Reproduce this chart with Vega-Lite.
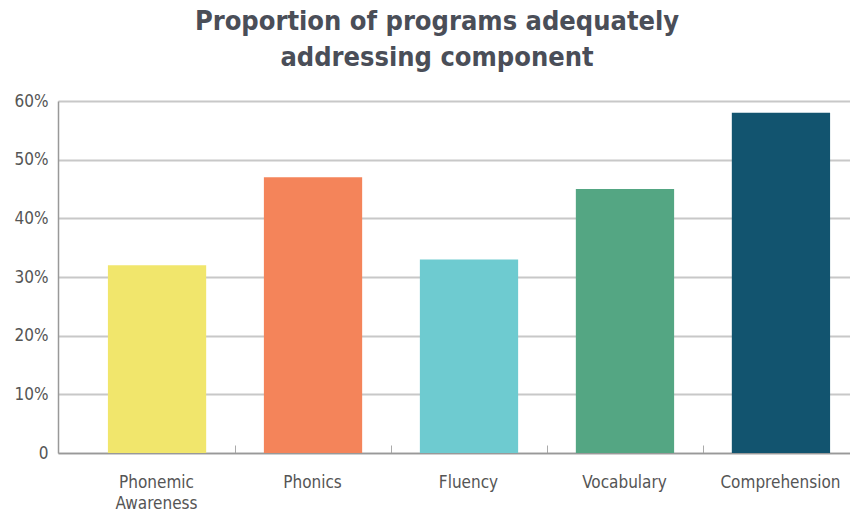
{
  "$schema": "https://vega.github.io/schema/vega-lite/v6.json",
  "autosize": {"type": "none"},
  "padding": {"left": 58, "top": 101, "right": 0, "bottom": 61},
  "width": 822,
  "height": 352,
  "background": "white",
  "title": {
    "text": ["Proportion of programs adequately", "addressing component"],
    "anchor": "middle",
    "frame": "group",
    "dx": -32,
    "offset": 20,
    "font": "DejaVu Sans Condensed, sans-serif",
    "fontSize": 27,
    "fontWeight": "bold",
    "color": "#4a4e58",
    "lineHeight": 36
  },
  "data": {
    "values": [
      {"component": "Phonemic Awareness", "pct": 32},
      {"component": "Phonics", "pct": 47},
      {"component": "Fluency", "pct": 33},
      {"component": "Vocabulary", "pct": 45},
      {"component": "Comprehension", "pct": 58}
    ]
  },
  "mark": {"type": "bar"},
  "encoding": {
    "x": {
      "field": "component",
      "type": "nominal",
      "sort": null,
      "scale": {"paddingInner": 0.37, "paddingOuter": 0.32},
      "axis": {
        "title": null,
        "labelAngle": 0,
        "labelExpr": "datum.label == 'Phonemic Awareness' ? ['Phonemic', 'Awareness'] : datum.label",
        "labelFont": "DejaVu Sans Condensed, sans-serif",
        "labelFontSize": 17,
        "labelColor": "#555555",
        "labelLineHeight": 21,
        "labelPadding": 29,
        "bandPosition": 1,
        "tickOffset": 29,
        "labelOffset": -30,
        "tickSize": -8,
        "tickColor": "#aaaaaa",
        "tickWidth": 1,
        "domainColor": "#999999",
        "domainWidth": 1.5,
        "grid": false
      }
    },
    "y": {
      "field": "pct",
      "type": "quantitative",
      "scale": {"domain": [0, 60]},
      "axis": {
        "title": null,
        "values": [0, 10, 20, 30, 40, 50, 60],
        "labelExpr": "datum.value == 0 ? '0' : datum.value + '%'",
        "labelFont": "DejaVu Sans Condensed, sans-serif",
        "labelFontSize": 17,
        "labelColor": "#555555",
        "labelPadding": 10,
        "ticks": false,
        "domainColor": "#999999",
        "domainWidth": 1.5,
        "grid": true,
        "gridColor": "#c8c8c8",
        "gridWidth": 2
      }
    },
    "color": {
      "field": "component",
      "type": "nominal",
      "sort": null,
      "scale": {
        "domain": ["Phonemic Awareness", "Phonics", "Fluency", "Vocabulary", "Comprehension"],
        "range": ["#f1e66c", "#f4845a", "#6ecbd0", "#54a683", "#12546f"]
      },
      "legend": null
    }
  },
  "config": {"view": {"stroke": null}}
}
